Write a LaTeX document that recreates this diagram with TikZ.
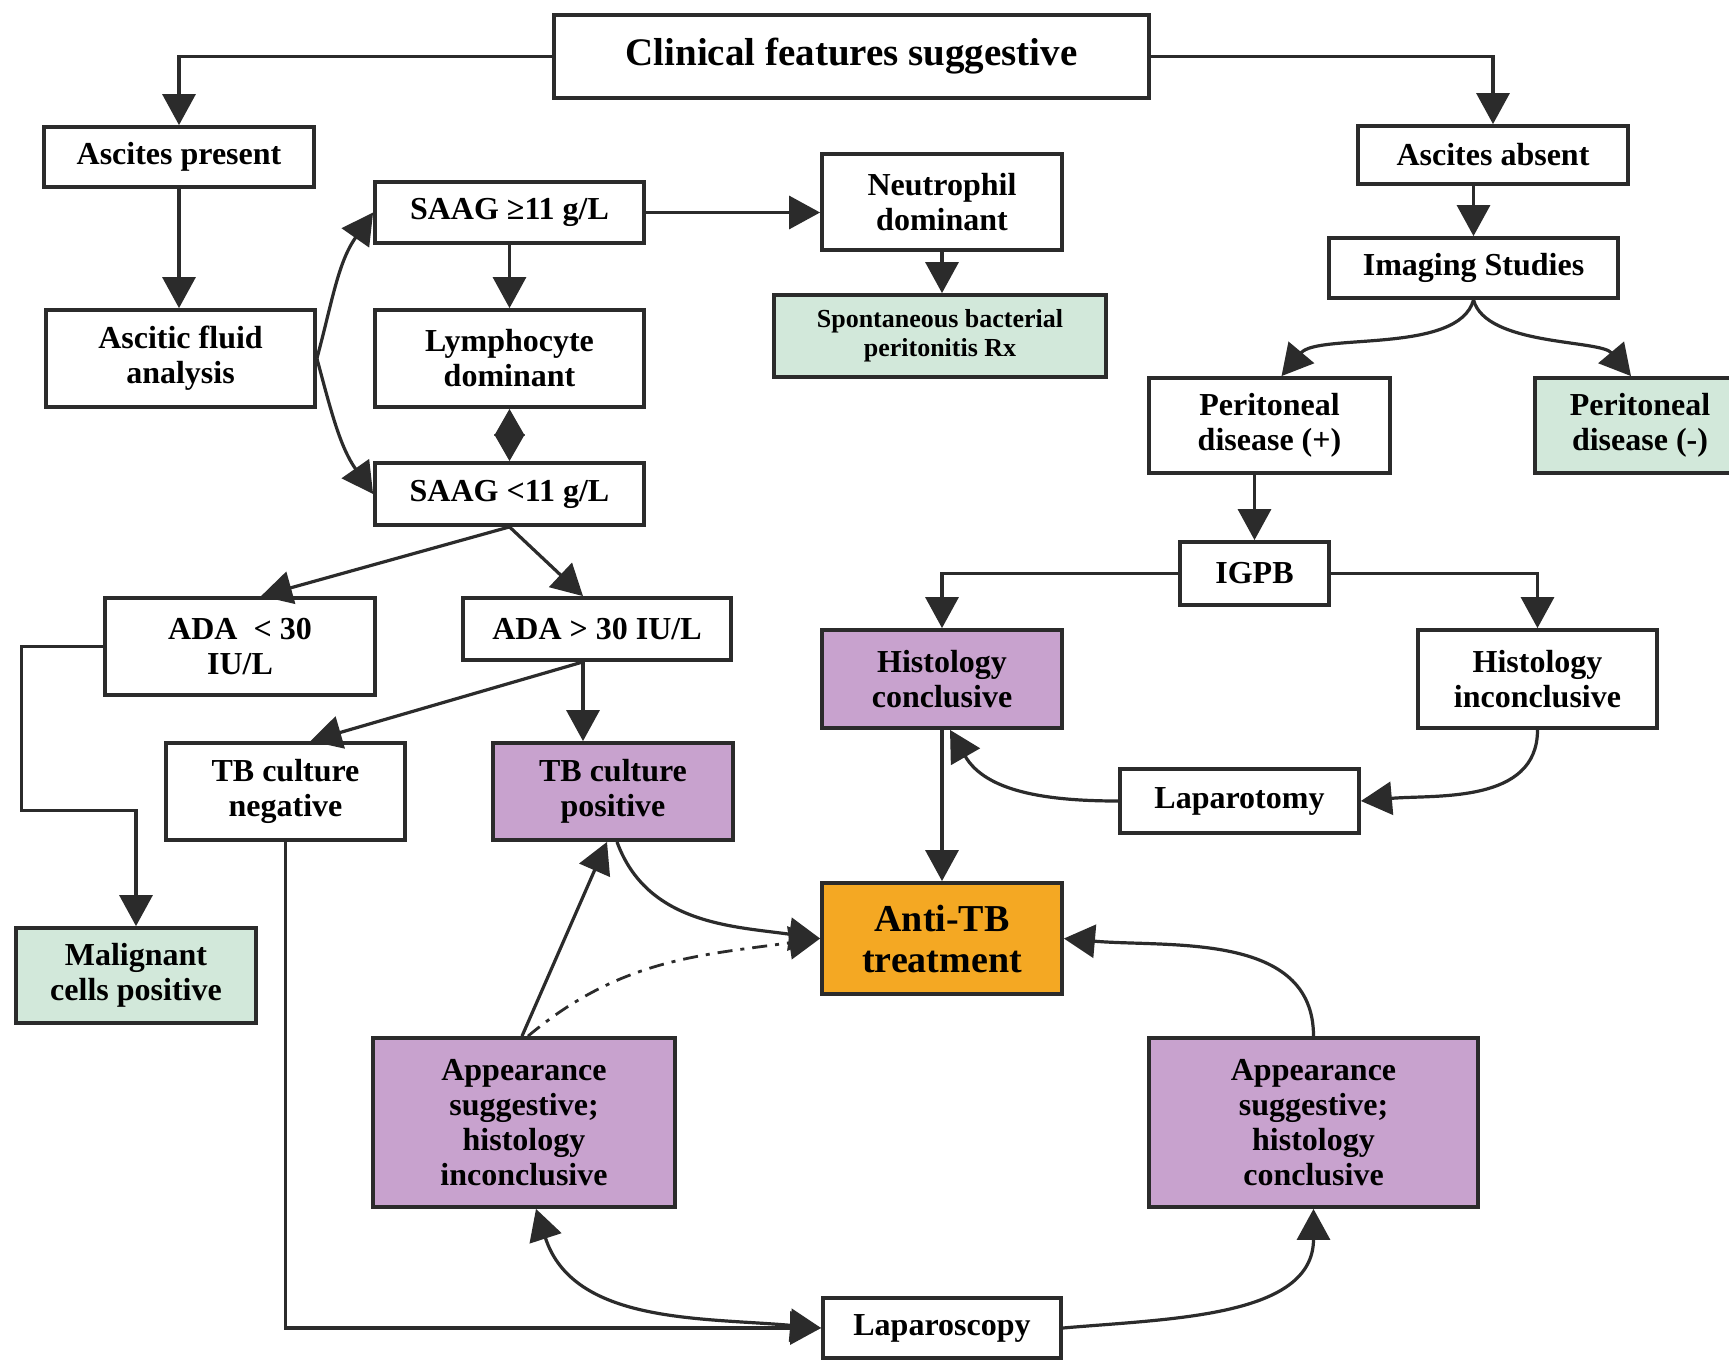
\documentclass[tikz,border=0pt]{standalone}
\usepackage{fontspec}
\setmainfont{Liberation Serif}
\usetikzlibrary{arrows.meta,calc}
\definecolor{gbox}{HTML}{D2E8DA}
\definecolor{pbox}{HTML}{C8A2CE}
\definecolor{obox}{HTML}{F4A823}
\definecolor{edge}{HTML}{2B2B2B}
\begin{document}
\begin{tikzpicture}[x=1pt,y=1pt,
  >={Triangle[length=31pt,width=33pt]},
  box/.style={draw=edge, line width=3.8pt, fill=white, align=center, inner sep=0pt,
    font=\bfseries\fontsize{32}{35}\selectfont},
  sz/.style 2 args={minimum width=#1pt, minimum height=#2pt},
  gfill/.style={fill=gbox}, pfill/.style={fill=pbox}, ofill/.style={fill=obox},
  arr/.style={draw=edge, line width=3.2pt, ->},
  dbl/.style={draw=edge, line width=3.2pt, <->},
  diam/.style={draw=edge, line width=3.2pt, {Triangle[length=27pt,width=30pt]}-{Triangle[length=27pt,width=30pt]}},
  dashdot/.style={draw=edge, line width=2.8pt, ->, dash pattern=on 15pt off 8pt on 4pt off 8pt}]
\useasboundingbox (0,0) rectangle (1729,-1360);
\fill[white] (0,0) rectangle (1729,-1360);

% nodes
\node[box,sz={595}{83},font=\bfseries\fontsize{39}{44}\selectfont] (clin) at (851.5,-56.5) {Clinical features suggestive};
\node[box,sz={270}{60}] (ap) at (179,-157) {Ascites present};
\node[box,sz={270}{58}] (aa) at (1493,-155) {Ascites absent};
\node[box,sz={269}{97}] (afa) at (180.5,-358.5) {Ascitic fluid\\analysis};
\node[box,sz={269}{61}] (saag1) at (509.5,-212.5) {SAAG ≥11 g/L};
\node[box,sz={269}{97}] (lym) at (509.5,-358.5) {Lymphocyte\\dominant};
\node[box,sz={269}{62}] (saag2) at (509.5,-494) {SAAG <11 g/L};
\node[box,sz={240}{96}] (neu) at (942,-202) {Neutrophil\\dominant};
\node[box,gfill,sz={332}{82},font=\bfseries\fontsize{26}{29}\selectfont] (sbp) at (940,-336) {Spontaneous bacterial\\peritonitis Rx};
\node[box,sz={289}{60}] (img) at (1473.5,-268) {Imaging Studies};
\node[box,sz={241}{95}] (pdp) at (1269.5,-425.5) {Peritoneal\\disease (+)};
\node[box,gfill,sz={210}{95}] (pdn) at (1640,-425.5) {Peritoneal\\disease (-)};
\node[box,sz={149}{63}] (igpb) at (1254.5,-573.5) {IGPB};
\node[box,pfill,sz={240}{98}] (hc) at (942,-679) {Histology\\conclusive};
\node[box,sz={239}{98}] (hi) at (1537.5,-679) {Histology\\inconclusive};
\node[box,sz={239}{64}] (lapt) at (1239.5,-801) {Laparotomy};
\node[box,ofill,sz={240}{111},font=\bfseries\fontsize{38}{41}\selectfont] (atb) at (942,-938.5) {Anti-TB\\treatment};
\node[box,sz={270}{97}] (ada1) at (240,-646.5) {ADA\ \ < 30\\IU/L};
\node[box,sz={268}{62}] (ada2) at (597,-629) {ADA > 30 IU/L};
\node[box,sz={239}{97}] (tbn) at (285.5,-791.5) {TB culture\\negative};
\node[box,pfill,sz={240}{97}] (tbp) at (613,-791.5) {TB culture\\positive};
\node[box,gfill,sz={240}{95}] (mal) at (136,-975.5) {Malignant\\cells positive};
\node[box,pfill,sz={302}{169}] (asi) at (524,-1122.5) {Appearance\\suggestive;\\histology\\inconclusive};
\node[box,pfill,sz={329}{169}] (asc) at (1313.5,-1122.5) {Appearance\\suggestive;\\histology\\conclusive};
\node[box,sz={238}{60}] (lps) at (942,-1328) {Laparoscopy};

% connectors
\draw[arr] (clin.west) -| (ap.north);
\draw[arr] (clin.east) -| (aa.north);
\draw[arr] (ap.south) -- (ap.south |- afa.north);
\draw[arr] (afa.east) to[out=75, in=235] (saag1.west);
\draw[arr] (afa.east) to[out=-75, in=125] (saag2.west);
\draw[arr] (saag1.south) -- (lym.north);
\draw[arr] (saag1.east) -- (saag1.east -| neu.west);
\draw[diam] (lym.south) -- (saag2.north);
\draw[arr] (neu.south) -- (neu.south |- sbp.north);
\draw[arr] (aa.south -| img.north) -- (img.north);
\draw[arr] (img.south) to[out=-105, in=50, looseness=0.7] ([xshift=12pt]pdp.north);
\draw[arr] (img.south) to[out=-75, in=130, looseness=0.7] ([xshift=-9pt]pdn.north);
\draw[arr] (pdp.south -| igpb.north) -- (igpb.north);
\draw[arr] (igpb.west) -| (hc.north);
\draw[arr] (igpb.east) -| (hi.north);
\draw[arr] (hi.south) to[out=-90, in=5] (lapt.east);
\draw[arr] (lapt.west) to[out=180, in=-60] ([xshift=8pt]hc.south);
\draw[arr] (hc.south) -- (atb.north);
\draw[arr] ([xshift=4pt]tbp.south) to[out=-70, in=172] (atb.west);
\draw[arr] ([xshift=-2pt]asi.north) -- ([xshift=-6pt]tbp.south);
\draw[dashdot] ([xshift=4pt]asi.north) to[out=40, in=188] (atb.west);
\draw[arr] (asc.north) to[out=90, in=-5] (atb.east);
\draw[arr] (tbn.south) |- (lps.west);
\draw[dbl] ([xshift=12pt]asi.south) to[out=-72, in=175] (lps.west);
\draw[arr] (lps.east) to[out=5, in=-90] (asc.south);
\draw[arr] (ada1.west) -- ++(-82,0) |- ([yshift=116pt]mal.north) -- (mal.north);
\draw[arr] (saag2.south) -- ([xshift=21pt]ada1.north);
\draw[arr] (saag2.south) -- ([xshift=-14pt]ada2.north);
\draw[arr] ([xshift=-14pt]ada2.south) -- ([xshift=25pt]tbn.north);
\draw[arr] ([xshift=-14pt]ada2.south) -- ([xshift=-14pt]ada2.south |- tbp.north);
\end{tikzpicture}
\end{document}
